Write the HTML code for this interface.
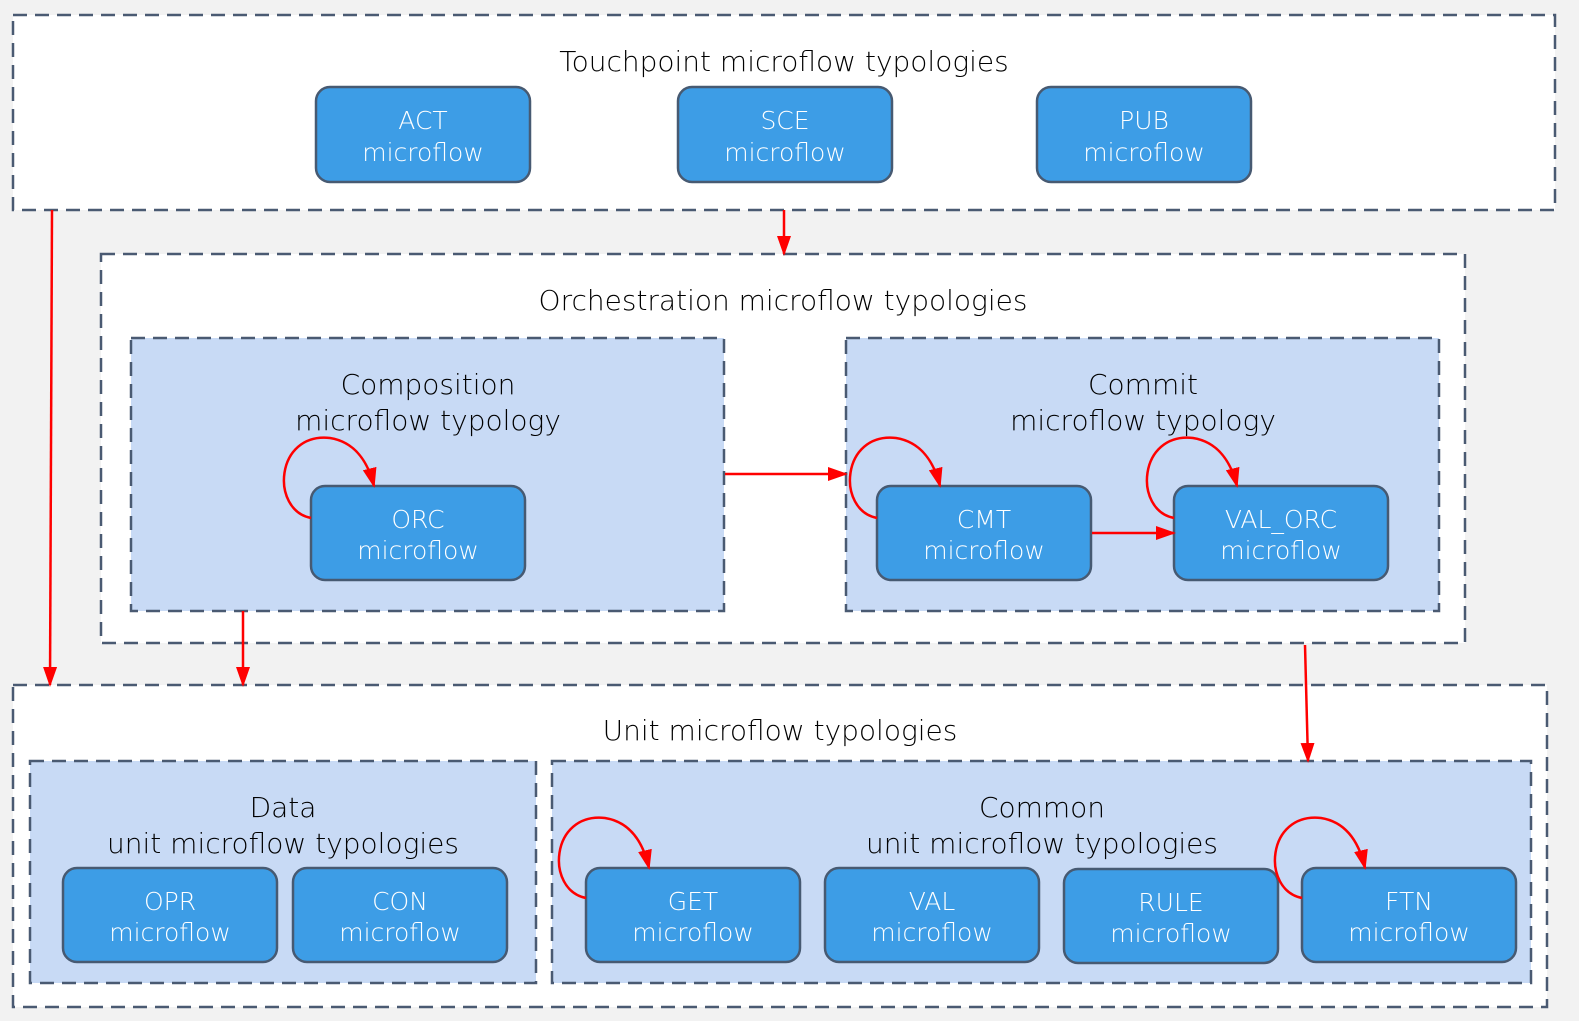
<!DOCTYPE html>
<html><head><style>body{margin:0;background:#f2f2f2}svg{display:block}text{font-family:"DejaVu Sans",sans-serif}</style></head><body>
<svg width="1579" height="1021" viewBox="0 0 1579 1021" xmlns="http://www.w3.org/2000/svg">
<defs><marker id="b" markerWidth="20" markerHeight="20" refX="18" refY="10" orient="auto" markerUnits="userSpaceOnUse" viewBox="0 0 20 20"><path d="M0,3L20,10L0,17z" fill="#f00"/></marker></defs>
<rect width="1579" height="1021" fill="#f2f2f2"/>
<g stroke="#4a5a72" stroke-width="2.5" stroke-dasharray="14 8">
<rect x="13" y="15" width="1542" height="195" fill="#fff"/>
<rect x="101" y="254" width="1364" height="389" fill="#fff"/>
<rect x="131" y="338" width="593" height="273" fill="#c8daf5"/>
<rect x="846" y="338" width="593" height="273" fill="#c8daf5"/>
<rect x="13" y="685" width="1534" height="322" fill="#fff"/>
<rect x="30" y="761" width="506" height="222" fill="#c8daf5"/>
<rect x="552" y="761" width="979" height="222" fill="#c8daf5"/>
</g>
<g font-size="28" fill="#000" text-anchor="middle" font-weight="300">
<text x="784" y="71">Touchpoint microflow typologies</text>
<text x="783" y="310">Orchestration microflow typologies</text>
<text x="428" y="394">Composition</text><text x="428" y="430">microflow typology</text>
<text x="1143" y="394">Commit</text><text x="1143" y="430">microflow typology</text>
<text x="780" y="740">Unit microflow typologies</text>
<text x="283" y="817">Data</text><text x="283" y="853">unit microflow typologies</text>
<text x="1042" y="817">Common</text><text x="1042" y="853">unit microflow typologies</text>
</g>
<g fill="#3d9de6" stroke="#475a72" stroke-width="2.5">
<rect x="316" y="87" width="214" height="95" rx="14"/>
<rect x="678" y="87" width="214" height="95" rx="14"/>
<rect x="1037" y="87" width="214" height="95" rx="14"/>
<rect x="311" y="486" width="214" height="94" rx="14"/>
<rect x="877" y="486" width="214" height="94" rx="14"/>
<rect x="1174" y="486" width="214" height="94" rx="14"/>
<rect x="63" y="868" width="214" height="94" rx="14"/>
<rect x="293" y="868" width="214" height="94" rx="14"/>
<rect x="586" y="868" width="214" height="94" rx="14"/>
<rect x="825" y="868" width="214" height="94" rx="14"/>
<rect x="1064" y="869" width="214" height="94" rx="14"/>
<rect x="1302" y="868" width="214" height="94" rx="14"/>
</g>
<g font-size="25" fill="#fff" text-anchor="middle" font-weight="300">
<text x="423" y="129">ACT</text><text x="423" y="161">microflow</text>
<text x="785" y="129">SCE</text><text x="785" y="161">microflow</text>
<text x="1144" y="129">PUB</text><text x="1144" y="161">microflow</text>
<text x="418" y="528">ORC</text><text x="418" y="559">microflow</text>
<text x="984" y="528">CMT</text><text x="984" y="559">microflow</text>
<text x="1281" y="528">VAL_ORC</text><text x="1281" y="559">microflow</text>
<text x="170" y="910">OPR</text><text x="170" y="941">microflow</text>
<text x="400" y="910">CON</text><text x="400" y="941">microflow</text>
<text x="693" y="910">GET</text><text x="693" y="941">microflow</text>
<text x="932" y="910">VAL</text><text x="932" y="941">microflow</text>
<text x="1171" y="911">RULE</text><text x="1171" y="942">microflow</text>
<text x="1409" y="910">FTN</text><text x="1409" y="941">microflow</text>
</g>
<g stroke="#f00" stroke-width="2.5" fill="none" marker-end="url(#b)">
<path d="M52,210L50,685"/>
<path d="M784,210L784,254"/>
<path d="M725,474L846,474"/>
<path d="M1092,533L1174,533"/>
<path d="M243,611L243,685"/>
<path d="M1305,645L1308,761"/>
<path d="M311,518C270,510 275,432 330,438C355,442 368,462 374,486"/>
<path d="M877,518C836,510 841,432 896,438C921,442 934,462 940,486"/>
<path d="M1174,518C1133,510 1138,432 1193,438C1218,442 1231,462 1237,486"/>
<path d="M586,898C545,890 550,812 605,818C630,822 643,842 649,868"/>
<path d="M1302,898C1261,890 1266,812 1321,818C1346,822 1359,842 1365,868"/>
</g>
</svg>
</body></html>
